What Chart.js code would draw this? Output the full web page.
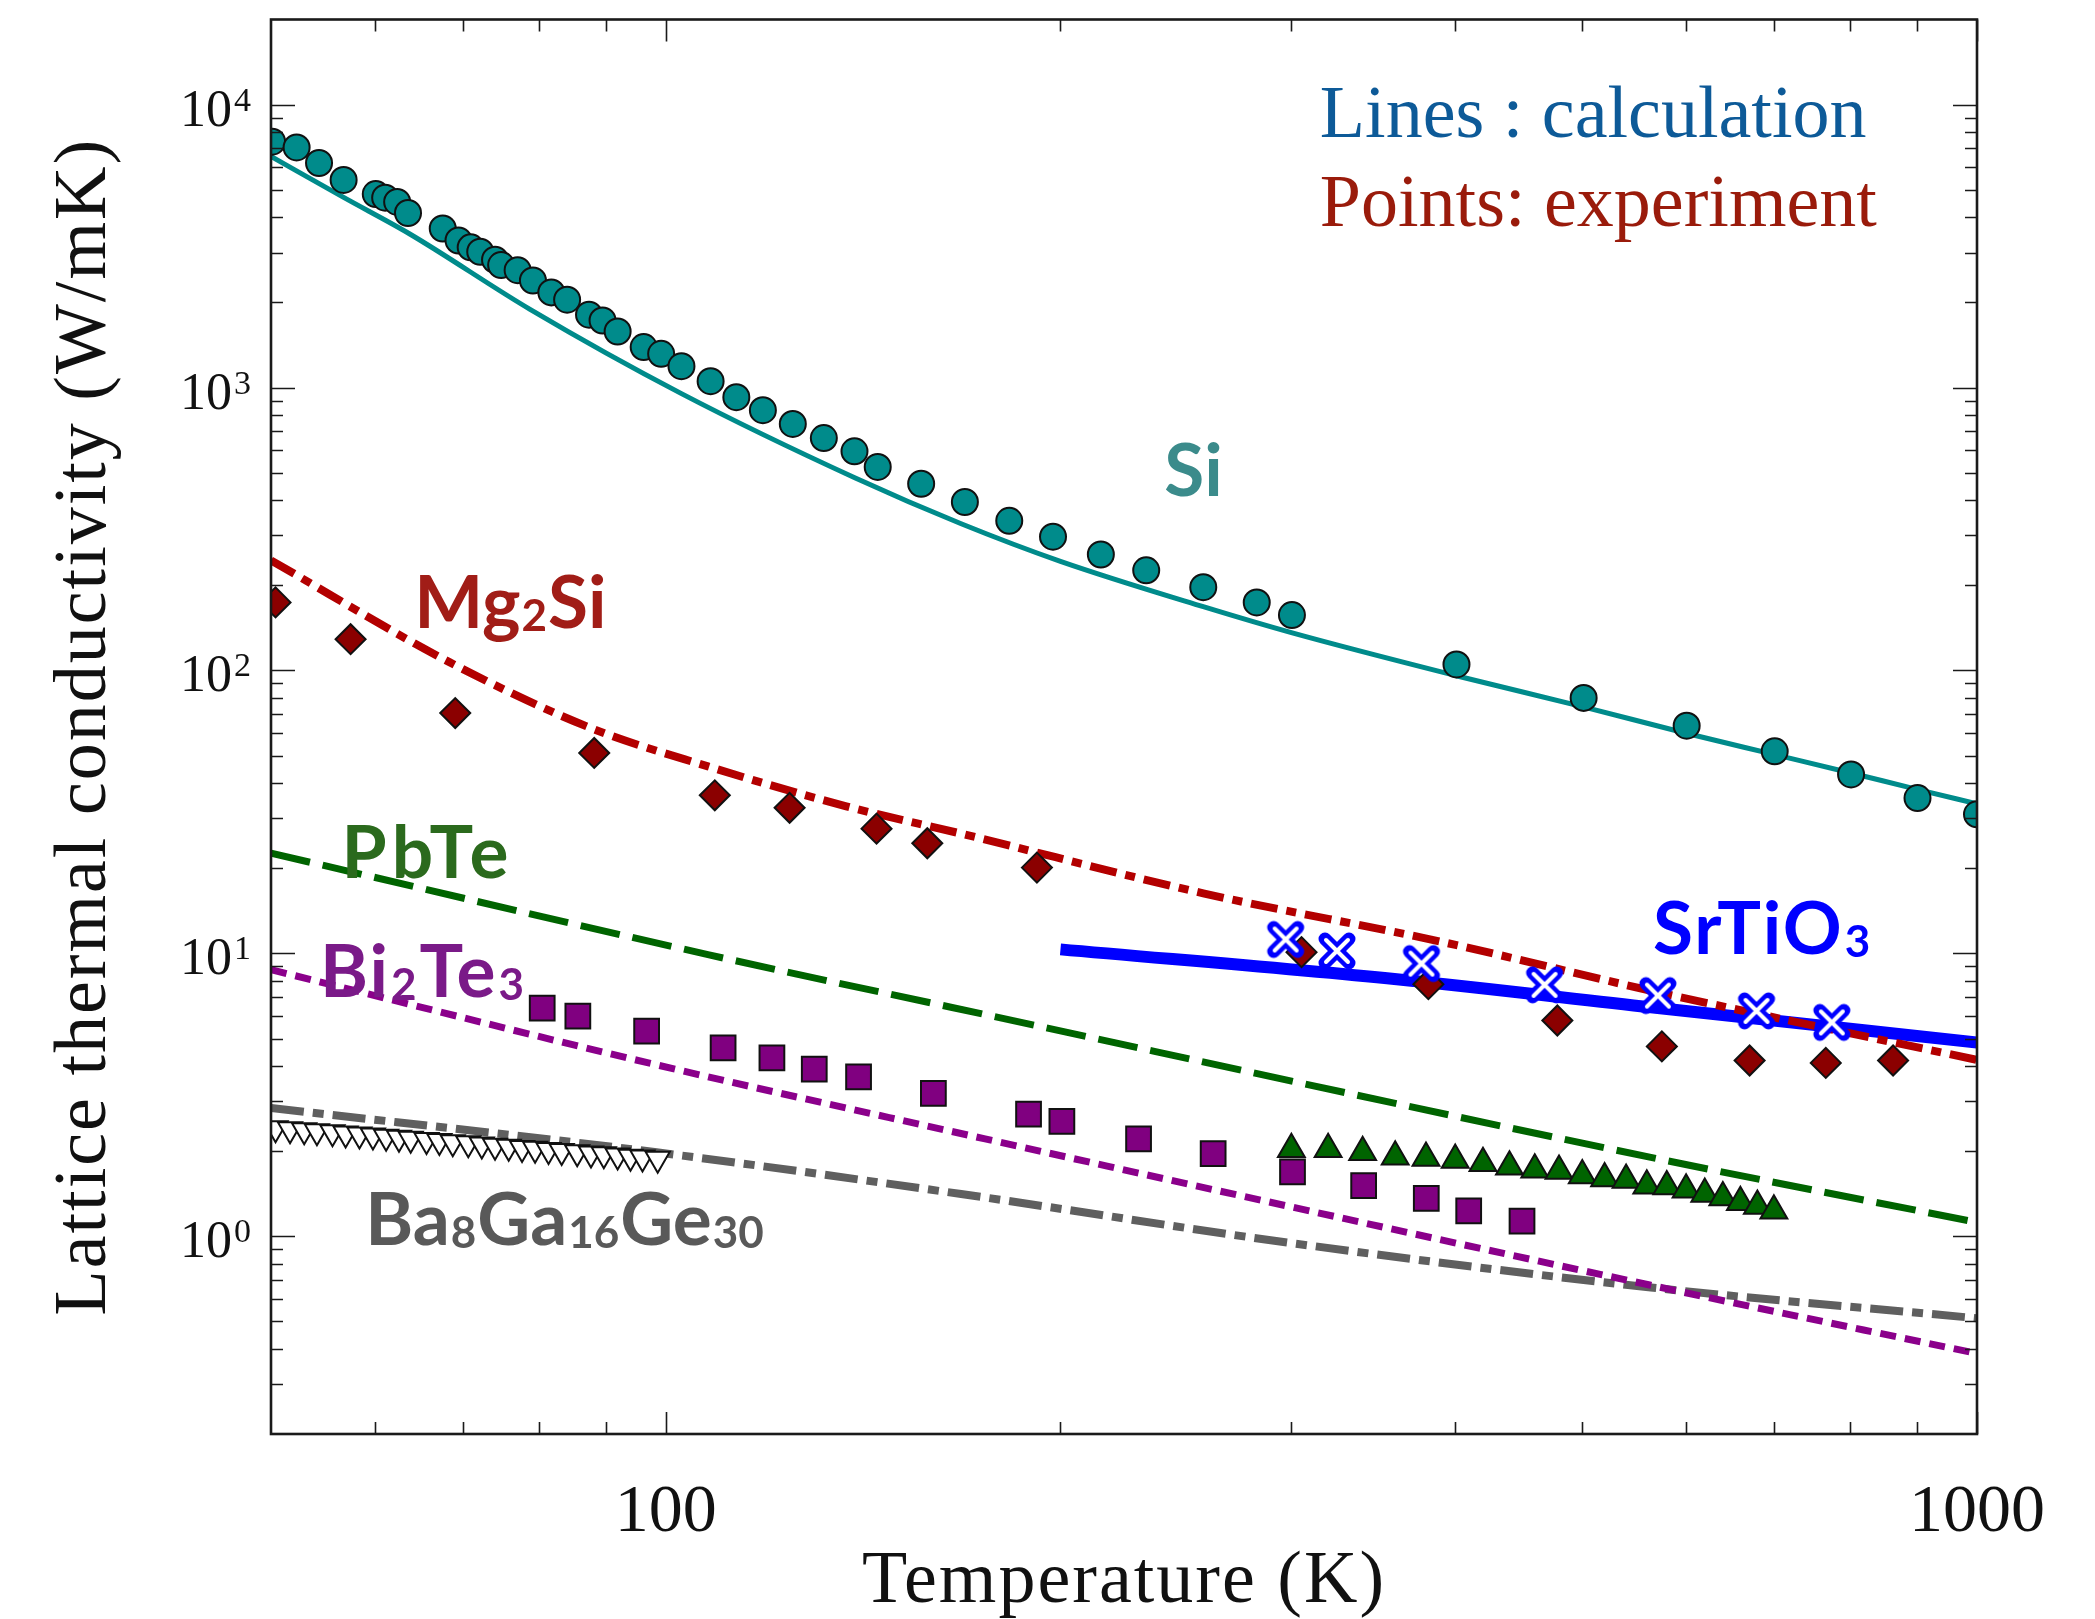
<!DOCTYPE html>
<html>
<head>
<meta charset="utf-8">
<script src="https://cdn.jsdelivr.net/npm/chart.js@4.4.1/dist/chart.umd.min.js"></script>
<style>
html, body { margin: 0; padding: 0; background: #fff; }
#wrap { width: 2095px; height: 1619px; }
</style>
</head>
<body>
<div id="wrap"><canvas id="plot" width="2095" height="1619"></canvas></div>
<script>
// ---------------- experiment (points)
var siT = [50.1, 52.3, 54.4, 56.8, 60.1, 61.1, 62.4, 63.6, 67.6, 69.5, 71.0, 72.2, 74.1, 74.9, 77.1, 79.2, 81.8, 84.1, 87.4, 89.5, 91.9, 96.2, 99.2, 102.8, 108.2, 113.2, 118.6, 125, 132, 139.3, 145.1, 156.6, 169.1, 182.8, 197.4, 214.7, 232.5, 257, 282.3, 300.3, 400.9, 501.2, 600.6, 701, 801.6, 900.8, 1000];
var siK = [7400, 7060, 6220, 5420, 4830, 4690, 4530, 4140, 3650, 3310, 3130, 3020, 2830, 2710, 2600, 2390, 2170, 2045, 1810, 1726, 1578, 1390, 1316, 1190, 1053, 925, 832, 744, 663, 595, 524, 457, 394, 338, 297, 257, 226, 197, 174, 157, 105, 80, 63.8, 51.8, 42.9, 35.4, 31.0];

var mgT = [50.4, 57.5, 69.1, 88.2, 109, 124.3, 144.8, 158.3, 191.9, 305.4, 381.6, 478.6, 575, 670.8, 766.8, 863];
var mgK = [174, 129, 70.7, 51.1, 36.2, 32.7, 27.6, 24.5, 20.1, 10.1, 7.78, 5.79, 4.69, 4.18, 4.10, 4.18];

var srT = [297, 325, 377, 468, 571, 679, 775];
var srK = [11.2, 10.2, 9.2, 7.74, 7.09, 6.26, 5.70];

var pbT = [300, 320, 340, 360, 380, 400, 420, 440, 460, 480, 500, 520, 540, 560, 580, 600, 620, 640, 660, 680, 700];
var pbK = [2.03, 2.03, 1.98, 1.91, 1.89, 1.86, 1.81, 1.76, 1.72, 1.70, 1.64, 1.60, 1.58, 1.51, 1.50, 1.46, 1.41, 1.37, 1.32, 1.28, 1.23];

var biT = [80.5, 85.7, 96.7, 110.6, 120.5, 129.8, 140.3, 160, 189.1, 200.5, 229.4, 261.5, 300.6, 340.6, 380.2, 409.6, 449.8];
var biK = [6.41, 6.0, 5.31, 4.63, 4.27, 3.90, 3.66, 3.20, 2.70, 2.55, 2.21, 1.96, 1.69, 1.51, 1.36, 1.23, 1.13];

var baT = [50.4, 51.7, 53.0, 54.2, 55.7, 57.0, 58.4, 59.8, 61.2, 62.6, 63.9, 65.7, 67.2, 68.8, 70.7, 72.4, 74.1, 75.9, 77.7, 79.5, 81.4, 83.3, 85.6, 87.7, 89.7, 91.9, 94.0, 96.0, 98.6];
var baK = [2.41, 2.39, 2.37, 2.35, 2.33, 2.31, 2.29, 2.27, 2.25, 2.23, 2.21, 2.19, 2.17, 2.15, 2.13, 2.11, 2.09, 2.07, 2.05, 2.04, 2.02, 2.00, 1.98, 1.96, 1.95, 1.93, 1.91, 1.90, 1.88];

// ---------------- calculation (lines)
var siCalcT = [50, 56.8, 63.8, 78.8, 102.8, 139.5, 168, 200, 257, 300, 400, 500, 600, 700, 800, 900, 1000];
var siCalcK = [6565, 4700, 3490, 1890, 952, 479, 330, 243, 168, 136, 96, 74.5, 60, 50.5, 43.5, 38, 33.8];
var mgCalcT = [50, 68.4, 87.9, 107.7, 137.3, 168, 257, 390, 570, 1000];
var mgCalcK = [245, 107, 62.3, 45.8, 33.1, 26.5, 16.3, 11.0, 7.3, 4.2];
var pbCalcT = [50, 107.7, 165, 564, 1000];
var pbCalcK = [22.6, 9.9, 6.45, 1.9, 1.12];
var biCalcT = [50, 97, 165, 564, 1000];
var biCalcK = [8.75, 4.1, 2.35, 0.671, 0.385];
var baCalcT = [50, 98.4, 168, 300, 564, 1000];
var baCalcK = [2.84, 1.98, 1.41, 0.946, 0.659, 0.513];
var srCalcT = [200, 361, 564, 1000];
var srCalcK = [10.33, 8.1, 6.45, 4.84];

// axis ticks
var xMinor = [60, 70, 80, 90, 200, 300, 400, 500, 600, 700, 800, 900];
var xMajor = [100, 1000];
var yExp = [0, 1, 2, 3, 4];

function pts(xs, ys) {
    var out = [];
    for (var i in xs) {
        out.push({x: xs[i], y: ys[i]});
    }
    return out;
}

// blue open cross used for SrTiO3
function makeCross() {
    var c = document.createElement('canvas');
    c.width = 44; c.height = 44;
    var g = c.getContext('2d');
    g.lineCap = 'round';
    g.strokeStyle = '#0000ff';
    g.lineWidth = 13;
    g.beginPath(); g.moveTo(10, 10); g.lineTo(34, 34); g.moveTo(34, 10); g.lineTo(10, 34); g.stroke();
    g.strokeStyle = '#ffffff';
    g.lineWidth = 4;
    g.beginPath(); g.moveTo(11, 11); g.lineTo(33, 33); g.moveTo(33, 11); g.lineTo(11, 33); g.stroke();
    return c;
}

function calcLine(xs, ys, color, width, dash) {
    return {
        data: pts(xs, ys), showLine: true, pointRadius: 0, borderColor: color,
        borderWidth: width, borderDash: dash, cubicInterpolationMode: 'monotone', order: 5
    };
}

function expPoints(xs, ys, style, r, fill, rot) {
    return {
        data: pts(xs, ys), showLine: false, pointStyle: style, pointRadius: r,
        backgroundColor: fill, borderColor: '#111', borderWidth: 2, rotation: rot || 0, order: 1
    };
}

var labels = [
    {parts: [['Si', 0]], T: 240, K: 414, color: '#3b8b8b', sp: 0},
    {parts: [['Mg', 0], ['2', 1], ['Si', 0]], T: 64.3, K: 141, color: '#a11d17', sp: 0},
    {parts: [['PbTe', 0]], T: 56.6, K: 18.5, color: '#2b6a1d', sp: 5},
    {parts: [['Bi', 0], ['2', 1], ['Te', 0], ['3', 1]], T: 54.5, K: 7.02, color: '#7a1a88', sp: 2},
    {parts: [['Ba', 0], ['8', 1], ['Ga', 0], ['16', 1], ['Ge', 0], ['30', 1]], T: 59.0, K: 0.93, color: '#595959', sp: 0},
    {parts: [['SrTiO', 0], ['3', 1]], T: 566, K: 9.94, color: '#0000ff', sp: 2}
];

var decor = {
    id: 'decor',
    beforeDraw: function (chart) {
        var c = chart.ctx;
        c.save();
        c.fillStyle = '#fff';
        c.fillRect(0, 0, chart.width, chart.height);
        c.restore();
    },
    afterDraw: function (chart) {
        var c = chart.ctx, a = chart.chartArea;
        var xs = chart.scales.x, ys = chart.scales.y;
        c.save();
        c.strokeStyle = '#1a1a1a';
        c.lineWidth = 1.6;
        // ticks, inward on the four sides
        c.beginPath();
        function xt(v, len) {
            var p = Math.round(xs.getPixelForValue(v)) + 0.5;
            c.moveTo(p, a.bottom); c.lineTo(p, a.bottom - len);
            c.moveTo(p, a.top); c.lineTo(p, a.top + len);
        }
        function yt(v, len) {
            var p = Math.round(ys.getPixelForValue(v)) + 0.5;
            c.moveTo(a.left, p); c.lineTo(a.left + len, p);
            c.moveTo(a.right, p); c.lineTo(a.right - len, p);
        }
        xMinor.forEach(function (v) { xt(v, 12); });
        xMajor.forEach(function (v) { xt(v, 22); });
        for (var e = -1; e <= 4; e++) {
            for (var m = 1; m <= 9; m++) {
                var v = m * Math.pow(10, e);
                if (v <= 0.2 || v >= 20000) continue;
                yt(v, m === 1 ? 24 : 12);
            }
        }
        c.stroke();
        c.lineWidth = 2.6;
        c.strokeRect(a.left, a.top, a.right - a.left, a.bottom - a.top);

        // tick labels
        c.fillStyle = '#111';
        c.font = '68px "Liberation Serif"';
        c.textAlign = 'center';
        c.textBaseline = 'alphabetic';
        xMajor.forEach(function (v) {
            c.fillText(String(v), xs.getPixelForValue(v), 1531);
        });
        yExp.forEach(function (e) {
            var p = ys.getPixelForValue(Math.pow(10, e));
            c.textAlign = 'right';
            c.font = '52px "Liberation Serif"';
            c.fillText('10', 232, p + 21);
            c.textAlign = 'left';
            c.font = '34px "Liberation Serif"';
            c.fillText(String(e), 234, p + 6);
        });

        // axis titles
        c.font = '74px "Liberation Serif"';
        c.letterSpacing = '2px';
        c.textAlign = 'center';
        c.fillText('Temperature (K)', (a.left + a.right) / 2, 1602);
        c.save();
        c.translate(105, (a.top + a.bottom) / 2);
        c.rotate(-Math.PI / 2);
        c.fillText('Lattice thermal conductivity (W/mK)', 0, 0);
        c.restore();
        c.letterSpacing = '0px';

        // note on lines / points
        c.textAlign = 'left';
        c.font = '74px "Liberation Serif"';
        c.fillStyle = '#0d5a98';
        c.fillText('Lines : calculation', xs.getPixelForValue(315.4), ys.getPixelForValue(7690));
        c.fillStyle = '#9a1b0b';
        c.fillText('Points: experiment', xs.getPixelForValue(315.4), ys.getPixelForValue(3715));

        // material names
        labels.forEach(function (l) {
            var x = xs.getPixelForValue(l.T), y = ys.getPixelForValue(l.K);
            c.fillStyle = l.color;
            c.letterSpacing = l.sp + 'px';
            l.parts.forEach(function (p) {
                c.font = p[1] ? 'bold 44px Lato' : 'bold 73px Lato';
                c.fillText(p[0], x, y + (p[1] ? 3 : 0));
                x += c.measureText(p[0]).width + 1;
            });
        });
        c.letterSpacing = '0px';
        c.restore();
    }
};

new Chart(document.getElementById('plot'), {
    type: 'scatter',
    data: {
        datasets: [
            calcLine(siCalcT, siCalcK, '#008b8b', 5, []),
            calcLine(mgCalcT, mgCalcK, '#b30000', 8, [27, 9, 10, 9]),
            calcLine(pbCalcT, pbCalcK, '#006400', 7, [40, 13]),
            calcLine(biCalcT, biCalcK, '#8b008b', 7, [16, 9]),
            calcLine(baCalcT, baCalcK, '#5f5f5f', 8, [33, 9, 11, 9]),
            calcLine(srCalcT, srCalcK, '#0000ff', 12, []),
            expPoints(siT, siK, 'circle', 13, '#008b8b'),
            expPoints(mgT, mgK, 'rectRot', 15, '#8b0000'),
            expPoints(biT, biK, 'rect', 17.5, '#800080'),
            expPoints(pbT, pbK, 'triangle', 15.5, '#006400'),
            expPoints(baT, baK, 'triangle', 14, '#ffffff', 180),
            {data: pts(srT, srK), showLine: false, pointStyle: makeCross(), pointRadius: 18, order: 0}
        ]
    },
    options: {
        responsive: false,
        animation: false,
        devicePixelRatio: 1,
        layout: {padding: {left: 271, right: 118, top: 12, bottom: 185}},
        plugins: {legend: {display: false}, tooltip: {enabled: false}},
        scales: {
            x: {type: 'logarithmic', min: 50, max: 1000, display: false},
            y: {type: 'logarithmic', min: 0.2, max: 20000, display: false}
        }
    },
    plugins: [decor]
});
</script>
</body>
</html>
